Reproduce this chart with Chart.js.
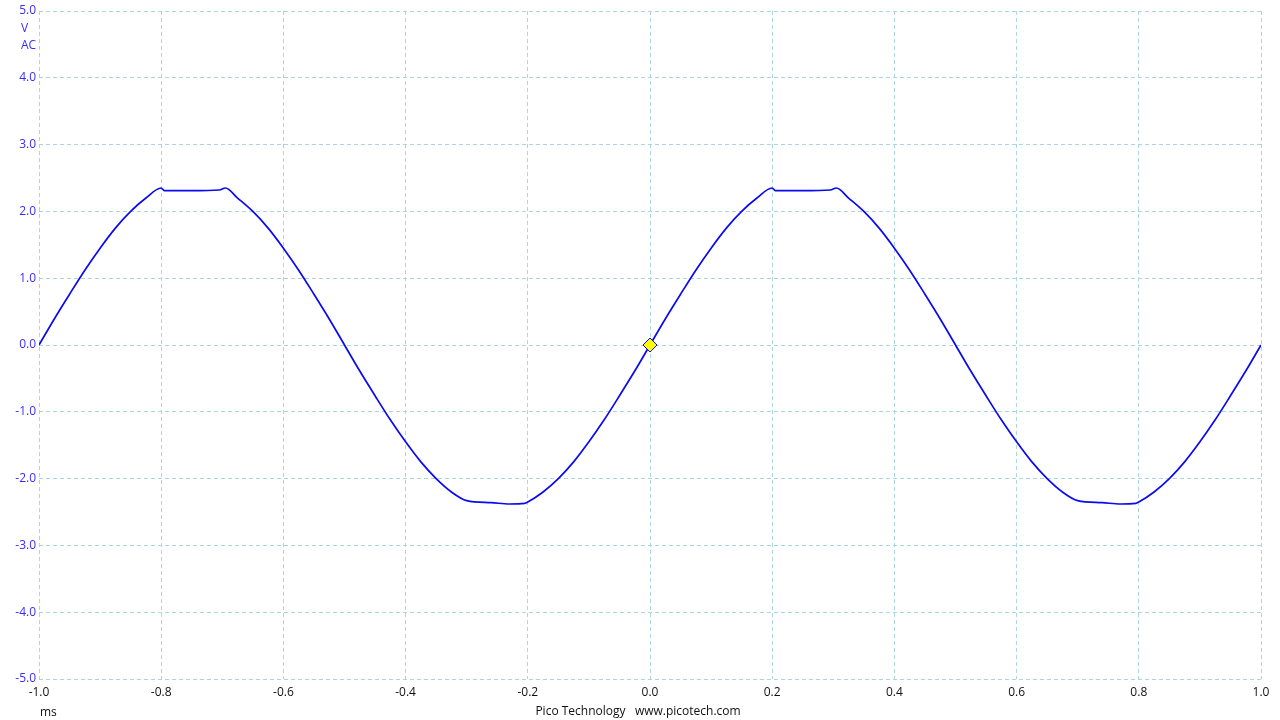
<!DOCTYPE html>
<html>
<head>
<meta charset="utf-8">
<script src="https://cdn.jsdelivr.net/npm/chart.js@4/dist/chart.umd.min.js"></script>
<style>
  body { margin: 0; background: #fff; }
  canvas { display: block; }
</style>
</head>
<body>
<canvas id="scope" width="1280" height="720"></canvas>
<script>
// time in ms, voltage in V
const times = [
  -1.000, -0.975, -0.950, -0.925, -0.900, -0.875, -0.850, -0.825, -0.800,
  -0.795, -0.750, -0.705, -0.695,
  -0.675, -0.650, -0.625, -0.600, -0.575, -0.550, -0.525, -0.500,
  -0.475, -0.450, -0.425, -0.400, -0.375, -0.350, -0.325, -0.300,
  -0.260, -0.230, -0.205, -0.200,
  -0.175, -0.150, -0.125, -0.100, -0.075, -0.050, -0.025, 0.000,
  0.025, 0.050, 0.075, 0.100, 0.125, 0.150, 0.175, 0.200,
  0.205, 0.250, 0.295, 0.305,
  0.325, 0.350, 0.375, 0.400, 0.425, 0.450, 0.475, 0.500,
  0.525, 0.550, 0.575, 0.600, 0.625, 0.650, 0.675, 0.700,
  0.740, 0.770, 0.795, 0.800,
  0.825, 0.850, 0.875, 0.900, 0.925, 0.950, 0.975, 1.000
];
const volts = [
  0.00, 0.39, 0.76, 1.12, 1.45, 1.75, 2.00, 2.20, 2.35,
  2.31, 2.31, 2.32, 2.35,
  2.20, 2.00, 1.75, 1.45, 1.12, 0.76, 0.39, 0.00,
  -0.39, -0.76, -1.12, -1.45, -1.75, -2.00, -2.20, -2.33,
  -2.36, -2.38, -2.37, -2.35,
  -2.20, -2.00, -1.75, -1.45, -1.12, -0.76, -0.39, 0.00,
  0.39, 0.76, 1.12, 1.45, 1.75, 2.00, 2.20, 2.35,
  2.31, 2.31, 2.32, 2.35,
  2.20, 2.00, 1.75, 1.45, 1.12, 0.76, 0.39, 0.00,
  -0.39, -0.76, -1.12, -1.45, -1.75, -2.00, -2.20, -2.33,
  -2.36, -2.38, -2.37, -2.35,
  -2.20, -2.00, -1.75, -1.45, -1.12, -0.76, -0.39, 0.00
];
// trigger marker
const triggerTime = [0.0];
const triggerVolt = [0.0];

const xRange = [-1.0, 1.0];
const yRange = [-5.0, 5.0];
const unitX = "ms";
const unitY = ["V", "AC"];
const footer = "Pico Technology   www.picotech.com";

const gridColor = "#a9d6e0";
const traceColor = "#0a0af0";
const yLabelColor = "#3a2cff";
const fontFamily = "'Open Sans', 'DejaVu Sans', sans-serif";

const fmt = (v) => (Math.abs(v) < 1e-9 ? "0.0" : Number(v).toFixed(1));

// extra labels: units and footer
const scopeText = {
  id: "scopeText",
  afterDraw(chart) {
    const ctx = chart.ctx;
    ctx.save();
    ctx.font = "12px " + fontFamily;
    ctx.textBaseline = "middle";
    ctx.fillStyle = yLabelColor;
    ctx.textAlign = "left";
    ctx.fillText(unitY[0], 21, 29);
    ctx.fillText(unitY[1], 21, 46);
    ctx.fillStyle = "#111";
    ctx.fillText(unitX, 40, 713);
    ctx.textAlign = "center";
    ctx.fillText(footer, 638, 712);
    ctx.restore();
  },
};

new Chart(document.getElementById("scope").getContext("2d"), {
  type: "line",
  data: {
    datasets: [
      {
        label: "Trigger",
        data: triggerTime.map((t, i) => ({ x: t, y: triggerVolt[i] })),
        showLine: false,
        pointStyle: "rectRot",
        pointRadius: 7,
        pointBackgroundColor: "#ffff00",
        pointBorderColor: traceColor,
        pointBorderWidth: 1,
      },
      {
        label: "Channel A",
        data: times.map((t, i) => ({ x: t, y: volts[i] })),
        borderColor: traceColor,
        borderWidth: 1.7,
        pointRadius: 0,
        cubicInterpolationMode: "monotone",
        fill: false,
      },
    ],
  },
  options: {
    responsive: false,
    animation: false,
    layout: { padding: { top: 11, right: 19, left: 0, bottom: 0 } },
    plugins: {
      legend: { display: false },
      tooltip: { enabled: false },
    },
    scales: {
      x: {
        type: "linear",
        min: xRange[0],
        max: xRange[1],
        afterFit(scale) {
          scale.height = 41;
        },
        ticks: {
          stepSize: 0.2,
          padding: 6,
          color: "#111",
          font: { family: fontFamily, size: 12 },
          maxRotation: 0,
          callback: fmt,
        },
        grid: {
          color: gridColor,
          drawTicks: false,
        },
        border: { display: false, dash: [4, 3] },
      },
      y: {
        min: yRange[0],
        max: yRange[1],
        afterFit(scale) {
          scale.width = 39;
        },
        ticks: {
          stepSize: 1,
          padding: 3,
          color: yLabelColor,
          font: { family: fontFamily, size: 12 },
          callback: fmt,
        },
        grid: {
          color: gridColor,
          drawTicks: false,
        },
        border: { display: false, dash: [4, 3] },
      },
    },
  },
  plugins: [scopeText],
});
</script>
</body>
</html>
